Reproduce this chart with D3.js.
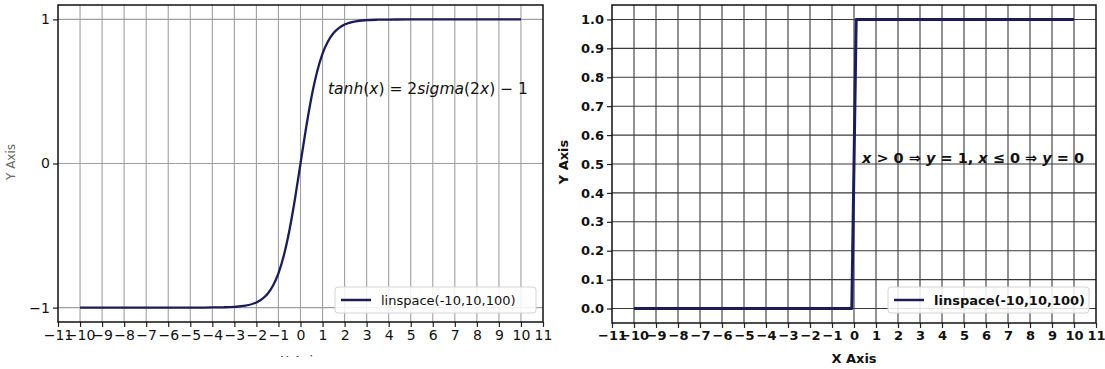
<!DOCTYPE html>
<html>
<head>
<meta charset="utf-8">
<script src="https://cdn.jsdelivr.net/npm/d3@7"></script>
<style>
  html, body { margin: 0; padding: 0; background: #fff; }
  svg { display: block; }
  text { font-family: "DejaVu Sans", sans-serif; }
</style>
</head>
<body>
<svg id="chart" width="1105" height="369"></svg>
<script>
// tanh activation, sampled along x
const tanhX = [-10, -9, -8, -7, -6, -5, -4, -3.5, -3, -2.5, -2, -1.75, -1.5, -1.25, -1, -0.75, -0.5, -0.25,
               0, 0.25, 0.5, 0.75, 1, 1.25, 1.5, 1.75, 2, 2.5, 3, 3.5, 4, 5, 6, 7, 8, 9, 10];
const tanhY = [-1, -1, -1, -1, -1, -1, -0.999, -0.998, -0.995, -0.987, -0.964, -0.941, -0.905, -0.848, -0.762, -0.635, -0.462, -0.245,
               0, 0.245, 0.462, 0.635, 0.762, 0.848, 0.905, 0.941, 0.964, 0.987, 0.995, 0.998, 0.999, 1, 1, 1, 1, 1, 1];

// binary step activation
const stepX = [-10, -0.1, 0.1, 10];
const stepY = [0, 0, 1, 1];

// tick values
const xTicks = d3.range(-11, 12);
const tanhYTicks = [-1, 0, 1];
const stepYTicks = d3.range(0, 11).map(i => i / 10);

const legendLabel = "linspace(-10,10,100)";

const svg = d3.select("#chart");
const lineColor = "#1c1c5c";
const fmtMinus = d => String(d).replace("-", "\u2212");

function panel(opts) {
  const g = svg.append("g");
  const x = d3.scaleLinear().domain([-11, 11]).range([opts.left, opts.right]);
  const y = d3.scaleLinear().domain(opts.yDomain).range([opts.bottom, opts.top]);

  // grid
  g.append("g").selectAll("line").data(opts.vGrid).join("line")
    .attr("x1", d => x(d)).attr("x2", d => x(d))
    .attr("y1", opts.top).attr("y2", opts.bottom)
    .attr("stroke", opts.gridColor).attr("stroke-width", opts.gridWidth);
  g.append("g").selectAll("line").data(opts.yTicks).join("line")
    .attr("x1", opts.left).attr("x2", opts.right)
    .attr("y1", d => y(d)).attr("y2", d => y(d))
    .attr("stroke", opts.gridColor).attr("stroke-width", opts.gridWidth);

  // series
  const pts = opts.xs.map((v, i) => [v, opts.ys[i]]);
  g.append("path").datum(pts)
    .attr("d", d3.line().x(d => x(d[0])).y(d => y(d[1])).curve(opts.curve))
    .attr("fill", "none").attr("stroke", lineColor)
    .attr("stroke-width", opts.lineWidth).attr("stroke-linejoin", "round");

  // axes
  const xAxis = d3.axisBottom(x).tickValues(xTicks).tickFormat(fmtMinus).tickSize(5).tickPadding(3);
  const ax = g.append("g").attr("transform", `translate(0,${opts.bottom})`).call(xAxis);
  const yAxis = d3.axisLeft(y).tickValues(opts.yTicks).tickFormat(opts.yFormat).tickSize(5).tickPadding(3);
  const ay = g.append("g").attr("transform", `translate(${opts.left},0)`).call(yAxis);
  [ax, ay].forEach(a => {
    a.select(".domain").remove();
    a.selectAll("line").attr("stroke", "#222").attr("stroke-width", 1.2);
    a.selectAll("text").attr("fill", "#111").style("font-size", opts.tickSize + "px")
      .style("font-weight", opts.bold ? "bold" : "normal");
  });
  ax.selectAll("text").attr("dy", "0.72em");

  // frame
  g.append("rect").attr("x", opts.left).attr("y", opts.top)
    .attr("width", opts.right - opts.left).attr("height", opts.bottom - opts.top)
    .attr("fill", "none").attr("stroke", "#111").attr("stroke-width", 1.5);

  // legend
  const lg = g.append("g");
  lg.append("rect").attr("x", opts.legend[0]).attr("y", 287).attr("width", 201).attr("height", 26)
    .attr("rx", 3).attr("fill", "#fff").attr("fill-opacity", 0.85)
    .attr("stroke", "#d4d4d4").attr("stroke-width", 1);
  lg.append("line").attr("x1", opts.legend[0] + 6).attr("x2", opts.legend[0] + 36)
    .attr("y1", 300).attr("y2", 300).attr("stroke", lineColor).attr("stroke-width", 2.5);
  lg.append("text").attr("x", opts.legend[0] + 46).attr("y", 305)
    .style("font-size", "13px").style("font-weight", opts.bold ? "bold" : "normal")
    .attr("fill", "#111").text(legendLabel);

  return { g, x, y };
}

// left: tanh
const left = panel({
  left: 58, right: 543, top: 5, bottom: 322,
  yDomain: [-1.1, 1.1], yTicks: tanhYTicks, yFormat: fmtMinus,
  vGrid: d3.range(-10, 11), gridColor: "#a0a0a0", gridWidth: 1.1,
  xs: tanhX, ys: tanhY, curve: d3.curveMonotoneX, lineWidth: 2.3,
  legend: [335], bold: false, tickSize: 14
});

// right: binary step
const right = panel({
  left: 612, right: 1096, top: 5, bottom: 323,
  yDomain: [-0.05, 1.05], yTicks: stepYTicks, yFormat: d3.format(".1f"),
  vGrid: d3.range(-10, 11), gridColor: "#3a3a3a", gridWidth: 1.1,
  xs: stepX, ys: stepY, curve: d3.curveLinear, lineWidth: 3,
  legend: [888], bold: true, tickSize: 13
});

// equation labels
const eqL = left.g.append("text").attr("x", 328).attr("y", 94)
  .style("font-size", "15.5px").attr("fill", "#111");
[["tanh", true], ["(", false], ["x", true], [") = 2", false], ["sigma", true], ["(2", false], ["x", true], [") \u2212 1", false]]
  .forEach(([t, it]) => eqL.append("tspan").style("font-style", it ? "italic" : "normal").text(t));

const eqR = right.g.append("text").attr("x", 862).attr("y", 163)
  .style("font-size", "14.5px").style("font-weight", "bold").attr("fill", "#111");
[["x", true], [" > 0 \u21D2 ", false], ["y", true], [" = 1, ", false], ["x", true], [" \u2264 0 \u21D2 ", false], ["y", true], [" = 0", false]]
  .forEach(([t, it]) => eqR.append("tspan").style("font-style", it ? "italic" : "normal").text(t));

// axis titles
svg.append("defs").append("clipPath").attr("id", "leftTitleClip")
  .append("rect").attr("x", 0).attr("y", 0).attr("width", 1105).attr("height", 357);
svg.append("text").attr("clip-path", "url(#leftTitleClip)")
  .attr("x", 300).attr("y", 365).attr("text-anchor", "middle")
  .style("font-size", "13px").attr("fill", "#444").text("X Axis");
svg.append("text").attr("transform", "translate(15,162) rotate(-90)")
  .attr("text-anchor", "middle").style("font-size", "12px").attr("fill", "#666").text("Y Axis");

svg.append("text").attr("x", 854).attr("y", 363).attr("text-anchor", "middle")
  .style("font-size", "13px").style("font-weight", "bold").attr("fill", "#111").text("X Axis");
svg.append("text").attr("transform", "translate(568,162) rotate(-90)")
  .attr("text-anchor", "middle").style("font-size", "13px").style("font-weight", "bold").attr("fill", "#111").text("Y Axis");
</script>
</body>
</html>
